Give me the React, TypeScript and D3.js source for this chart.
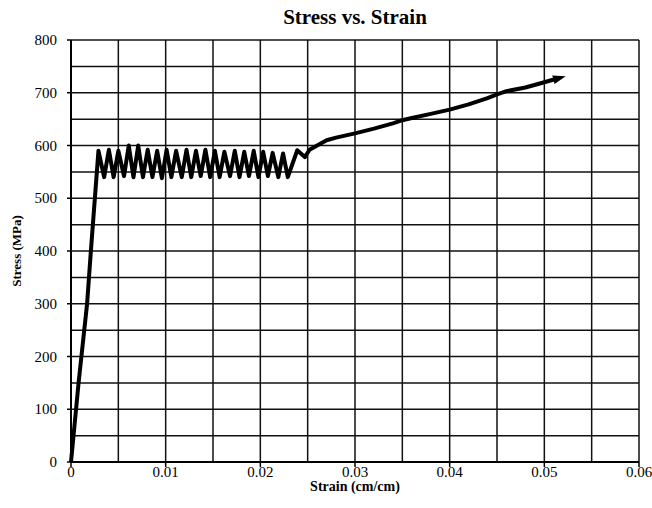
import React from "react";
import * as d3 from "d3";

// strain (cm/cm) and stress (MPa)
const strain = [
  0, 0.0008, 0.0017, 0.0021, 0.0029,
  0.0035, 0.004, 0.0045, 0.005, 0.0056, 0.0061, 0.0066, 0.0071, 0.0076, 0.0081,
  0.0086, 0.0091, 0.0096, 0.0101, 0.0106, 0.0111, 0.0117, 0.0122, 0.0127, 0.0132,
  0.0137, 0.0142, 0.0147, 0.0152, 0.0157, 0.0162, 0.0168, 0.0173, 0.0178, 0.0183,
  0.0188, 0.0193, 0.0198, 0.0203, 0.0208, 0.0213, 0.0219, 0.0224, 0.0229, 0.0239,
  0.0247, 0.0252, 0.026, 0.027, 0.028, 0.03, 0.032, 0.034, 0.035, 0.036, 0.038,
  0.04, 0.042, 0.044, 0.045, 0.046, 0.048, 0.05, 0.0512,
];
const stress = [
  0, 150, 300, 400, 590,
  540, 592, 540, 590, 542, 600, 540, 600, 540, 592,
  540, 590, 538, 592, 540, 590, 540, 592, 540, 590,
  542, 592, 540, 590, 540, 588, 542, 590, 540, 588,
  542, 590, 540, 588, 542, 586, 540, 585, 540, 591,
  578, 592, 600, 610, 615, 623, 632, 642, 648, 652, 660,
  668, 678, 690, 697, 703, 710, 720, 726,
];

const xTicks = [0, 0.01, 0.02, 0.03, 0.04, 0.05, 0.06];
const xTickLabels = ["0", "0.01", "0.02", "0.03", "0.04", "0.05", "0.06"];
const yTicks = [0, 100, 200, 300, 400, 500, 600, 700, 800];

const W = 652;
const H = 508;
const margin = { left: 71, right: 13, top: 40, bottom: 46 };
const font = "'Liberation Serif', 'Times New Roman', serif";

export default function App() {
  const x = d3.scaleLinear().domain([0, 0.06]).range([margin.left, W - margin.right]);
  const y = d3.scaleLinear().domain([0, 800]).range([H - margin.bottom, margin.top]);

  const xGrid = d3.range(0, 13).map((i) => i * 0.005);
  const yGrid = d3.range(0, 17).map((i) => i * 50);

  const line = d3
    .line<number>()
    .x((d) => x(d))
    .y((_, i) => y(stress[i]));

  return (
    <svg
      width={W}
      height={H}
      style={{ position: "absolute", left: 0, top: 0, background: "#fff" }}
    >
      <defs>
        <marker
          id="arrow"
          markerWidth={3.2}
          markerHeight={2.2}
          refX={0.6}
          refY={1.1}
          orient="auto"
          markerUnits="strokeWidth"
        >
          <path d="M0,0 L3.2,1.1 L0,2.2 Z" fill="#000" />
        </marker>
      </defs>

      {/* grid */}
      {xGrid.map((v) => (
        <line
          key={"gx" + v}
          x1={x(v)}
          x2={x(v)}
          y1={y(0)}
          y2={y(800)}
          stroke="#111"
          strokeWidth={1.5}
        />
      ))}
      {yGrid.map((v) => (
        <line
          key={"gy" + v}
          x1={x(0)}
          x2={x(0.06)}
          y1={y(v)}
          y2={y(v)}
          stroke="#111"
          strokeWidth={1.5}
        />
      ))}

      {/* axes */}
      <line x1={x(0)} x2={x(0)} y1={y(0)} y2={y(800)} stroke="#000" strokeWidth={2} />
      <line x1={x(0)} x2={x(0.06)} y1={y(0)} y2={y(0)} stroke="#000" strokeWidth={2} />
      {xTicks.map((v) => (
        <line key={"tx" + v} x1={x(v)} x2={x(v)} y1={y(0)} y2={y(0) + 5} stroke="#000" strokeWidth={1.5} />
      ))}
      {yTicks.map((v) => (
        <line key={"ty" + v} x1={x(0) - 4} x2={x(0)} y1={y(v)} y2={y(v)} stroke="#000" strokeWidth={1.5} />
      ))}

      {/* tick labels */}
      {xTicks.map((v, i) => (
        <text key={"lx" + v} x={x(v)} y={y(0) + 15} textAnchor="middle" fontSize={15} fontFamily={font}>
          {xTickLabels[i]}
        </text>
      ))}
      {yTicks.map((v) => (
        <text key={"ly" + v} x={x(0) - 14} y={y(v) + 5} textAnchor="end" fontSize={15} fontFamily={font}>
          {v}
        </text>
      ))}

      {/* data */}
      <path
        d={line(strain) || ""}
        fill="none"
        stroke="#000"
        strokeWidth={4}
        strokeLinejoin="round"
        markerEnd="url(#arrow)"
      />

      {/* titles */}
      <text x={(x(0) + x(0.06)) / 2} y={24} textAnchor="middle" fontSize={21} fontWeight="bold" fontFamily={font}>
        Stress vs. Strain
      </text>
      <text x={(x(0) + x(0.06)) / 2} y={491} textAnchor="middle" fontSize={14} fontWeight="bold" fontFamily={font}>
        Strain (cm/cm)
      </text>
      <text
        transform={`translate(21, ${(y(0) + y(800)) / 2}) rotate(-90)`}
        textAnchor="middle"
        fontSize={13}
        fontWeight="bold"
        fontFamily={font}
      >
        Stress (MPa)
      </text>
    </svg>
  );
}
